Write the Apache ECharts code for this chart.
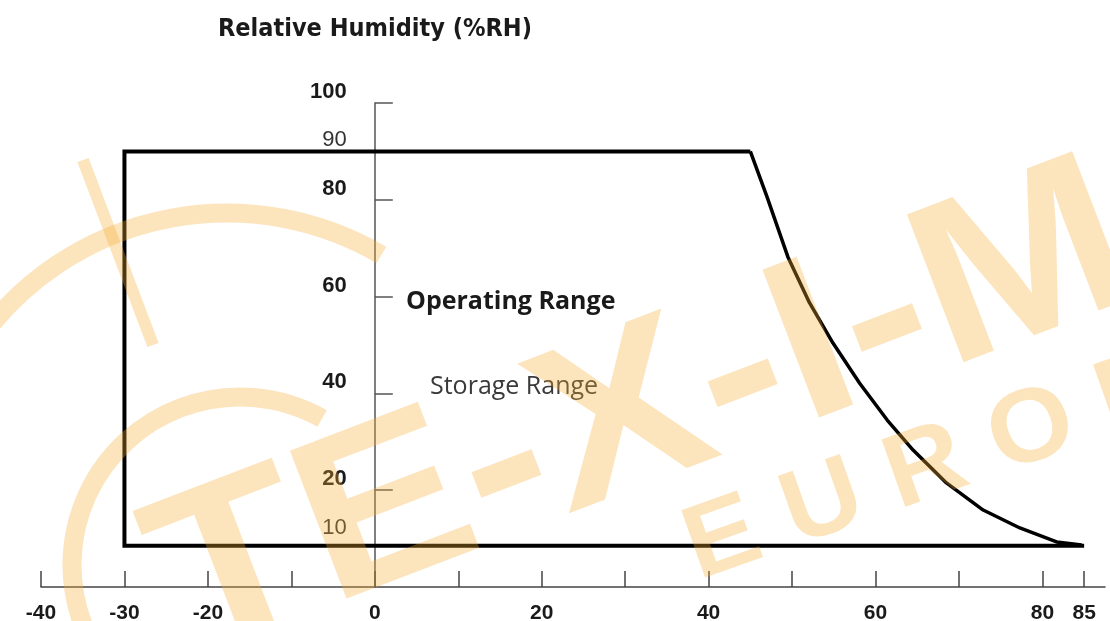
<!DOCTYPE html>
<html>
<head>
<meta charset="utf-8">
<script src="https://cdn.jsdelivr.net/npm/echarts@6/dist/echarts.min.js"></script>
<style>
html, body { margin: 0; padding: 0; background: #fff; }
#chart { width: 1110px; height: 621px; }
</style>
</head>
<body>
<div id="chart"></div>
<script>
// axis ticks / labels
const xTicks = [-40, -30, -20, -10, 0, 10, 20, 30, 40, 50, 60, 70, 80, 85];
const xLabels = [-40, -30, -20, 0, 20, 40, 60, 80, 85];
const yTicks = [20, 40, 60, 80, 100];
const yLabels = [10, 20, 40, 60, 80, 90, 100];

// range outline (temperature C, humidity %RH)
const rangeTemp = [85, -30, -30, 45];
const rangeHum = [8.5, 8.5, 90, 90];

// upper temperature limit curve
const curveTemp = [45, 47, 49.5, 52.1, 54.9, 58.1, 61.4, 64.5, 68.5, 72.9, 77.3, 81.7, 84.7];
const curveHum = [90, 80.6, 68.2, 58.7, 50.4, 42.1, 34.5, 28.3, 21.5, 15.9, 12.2, 9.3, 8.7];

const numFont = '"Liberation Sans Narrow", "Liberation Sans", Arial, sans-serif';
const wm = 'rgba(245, 170, 50, 0.32)';

const gridLeft = 41, gridRight = 5;
const xMin = -40, xMax = 87.5;
// y axis sits on temperature 0
const yOffset = -(1110 - gridLeft - gridRight) * (0 - xMin) / (xMax - xMin);

const myChart = echarts.init(document.getElementById('chart'));

myChart.setOption({
    animation: false,
    title: {
        text: 'Relative Humidity (%RH)',
        left: 213,
        top: 12,
        textStyle: { fontFamily: '"DejaVu Sans Condensed", "DejaVu Sans", sans-serif', fontWeight: 'bold', fontSize: 25, color: '#1a1a1a' }
    },
    grid: { left: gridLeft, right: gridRight, top: 103, bottom: 34, containLabel: false, outerBoundsMode: 'none' },
    xAxis: {
        type: 'value',
        min: xMin,
        max: xMax,
        splitLine: { show: false },
        axisLine: { onZero: false, lineStyle: { color: '#444', width: 1.5 } },
        axisTick: { inside: true, length: 16, customValues: xTicks, lineStyle: { color: '#444', width: 1.5 } },
        axisLabel: {
            customValues: xLabels,
            margin: 16,
            fontFamily: numFont,
            fontWeight: 'bold',
            fontSize: 21,
            color: '#1a1a1a'
        }
    },
    yAxis: {
        type: 'value',
        min: 0,
        max: 100,
        position: 'left',
        offset: yOffset,
        splitLine: { show: false },
        axisLine: { onZero: false, lineStyle: { color: '#555', width: 1.5 } },
        axisTick: { inside: true, length: 18, customValues: yTicks, lineStyle: { color: '#555', width: 1.5 } },
        axisLabel: {
            customValues: yLabels,
            margin: 28,
            verticalAlign: 'bottom',
            formatter: v => (v === 90 || v === 10) ? '{n|' + v + '}' : '{b|' + v + '}',
            rich: {
                b: { fontFamily: numFont, fontWeight: 'bold', fontSize: 22, color: '#1a1a1a' },
                n: { fontFamily: numFont, fontWeight: 'normal', fontSize: 22, color: '#333' }
            }
        }
    },
    series: [
        {
            type: 'line',
            data: rangeTemp.map((t, i) => [t, rangeHum[i]]),
            showSymbol: false,
            lineStyle: { color: '#000', width: 4, join: 'miter' },
            z: 3
        },
        {
            type: 'line',
            data: curveTemp.map((t, i) => [t, curveHum[i]]),
            showSymbol: false,
            lineStyle: { color: '#000', width: 3.5, join: 'round' },
            z: 3
        }
    ],
    graphic: [
        {
            type: 'text', left: 406, top: 289,
            style: { text: 'Operating Range', fontFamily: '"Open Sans", sans-serif', fontWeight: 'bold', fontSize: 25, fill: '#1a1a1a' }
        },
        {
            type: 'text', left: 430, top: 374,
            style: { text: 'Storage Range', fontFamily: '"Open Sans", sans-serif', fontSize: 25, fill: '#3a3a3a' }
        },
        // watermark
        {
            type: 'arc', silent: true, z: 100,
            shape: { cx: 227, cy: 518, r: 305, startAngle: -2.95, endAngle: -1.04, clockwise: true },
            style: { stroke: wm, fill: null, lineWidth: 19 }
        },
        {
            type: 'arc', silent: true, z: 100,
            shape: { cx: 240, cy: 565, r: 168, startAngle: -3.5, endAngle: -1.06, clockwise: true },
            style: { stroke: wm, fill: null, lineWidth: 19 }
        },
        {
            type: 'line', silent: true, z: 100,
            shape: { x1: 83, y1: 160, x2: 153, y2: 345 },
            style: { stroke: wm, lineWidth: 12 }
        },
        {
            type: 'text', silent: true, z: 100,
            x: 205, y: 708, rotation: 0.366, scaleX: 1.1,
            style: { text: 'TE-X-I-M', font: 'bold 230px "Liberation Sans", Arial, sans-serif', fill: wm, verticalAlign: 'bottom' }
        },
        {
            type: 'text', silent: true, z: 100,
            x: 706, y: 602, rotation: 0.34, scaleX: 1.05,
            style: { text: 'E U R O P E', font: 'bold 104px "Liberation Sans", Arial, sans-serif', fill: wm, verticalAlign: 'bottom' }
        }
    ]
});

window.addEventListener('resize', () => {
    myChart.resize();
});
</script>
</body>
</html>
